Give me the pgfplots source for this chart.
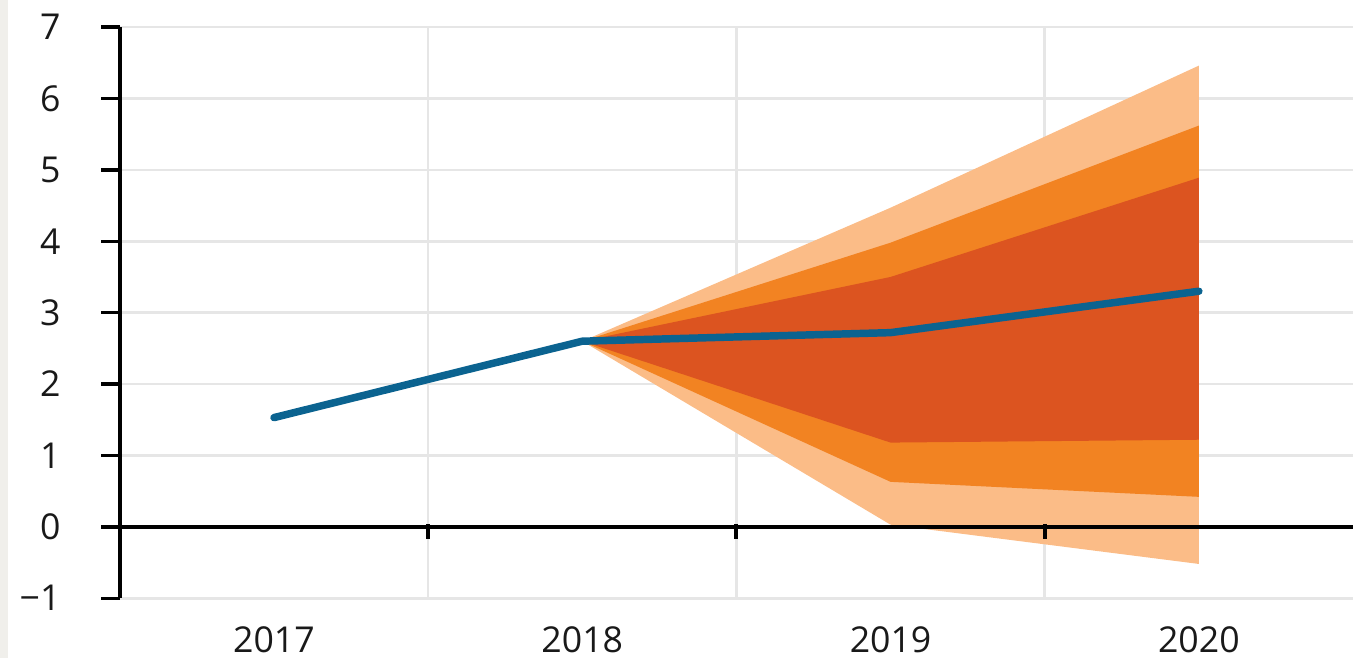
\documentclass[border=0pt]{standalone}
\usepackage{fontspec}
\setmainfont{Open Sans}
\usepackage{pgfplots}
\pgfplotsset{compat=1.18}
\definecolor{fanlight}{HTML}{FBBC87}
\definecolor{fanmid}{HTML}{F28322}
\definecolor{fandark}{HTML}{DC5420}
\definecolor{lineblue}{HTML}{0B6390}
\definecolor{gridgray}{HTML}{E6E6E6}
\definecolor{stripgray}{HTML}{F0EFEB}

\begin{document}
\begin{tikzpicture}
\path[use as bounding box] (-1.24,-0.62) rectangle (12.76,6.19);
\fill[stripgray] (-1.24,-0.62) rectangle (-1.16,6.19);
\begin{axis}[
    at={(0,0)}, anchor=south west,
    scale only axis, width=12.76cm, height=5.91cm,
    xmin=0, xmax=4, ymin=-1, ymax=7,
    axis lines*=left,
    x axis line style={draw=none},
    y axis line style={black, line width=1pt},
    xtick={0.5,1.5,2.5,3.5},
    xticklabels={2017,2018,2019,2020},
    x tick style={draw=none},
    extra x ticks={1,2,3},
    extra x tick labels={},
    extra x tick style={grid=major, tick style={draw=none}},
    ytick={-1,0,1,2,3,4,5,6,7},
    yticklabels={−1,0,1,2,3,4,5,6,7},
    ymajorgrids=true,
    grid style={gridgray, line width=0.8pt},
    tick align=outside,
    major tick length=0.19cm,
    y tick style={black, line width=1pt},
    ticklabel style={font=\fontsize{10.5}{12}\selectfont, text=black!90},
    xticklabel style={yshift=0.02cm},
    yticklabel style={xshift=-0.3cm},
    clip=false,
]
% outer band
\addplot[fill=fanlight, draw=none] coordinates {
    (1.5,2.6) (2.5,4.47) (3.5,6.46) (3.5,-0.52) (2.5,0.03) (1.5,2.6)
} --cycle;
% middle band
\addplot[fill=fanmid, draw=none] coordinates {
    (1.5,2.6) (2.5,3.98) (3.5,5.62) (3.5,0.42) (2.5,0.63) (1.5,2.6)
} --cycle;
% inner band
\addplot[fill=fandark, draw=none] coordinates {
    (1.5,2.6) (2.5,3.5) (3.5,4.89) (3.5,1.22) (2.5,1.18) (1.5,2.6)
} --cycle;
% central projection
\addplot[lineblue, line width=2.2pt, line cap=round, line join=round] coordinates {
    (0.5,1.53) (1.5,2.6) (2.5,2.72) (3.5,3.3)
};
\draw[black, line width=1pt] (axis cs:0,0) -- (axis cs:4,0);
\draw[black, line width=1.2pt] (axis cs:1,0.04) -- (axis cs:1,-0.17);
\draw[black, line width=1.2pt] (axis cs:2,0.04) -- (axis cs:2,-0.17);
\draw[black, line width=1.2pt] (axis cs:3,0.04) -- (axis cs:3,-0.17);
\end{axis}
\end{tikzpicture}
\end{document}
